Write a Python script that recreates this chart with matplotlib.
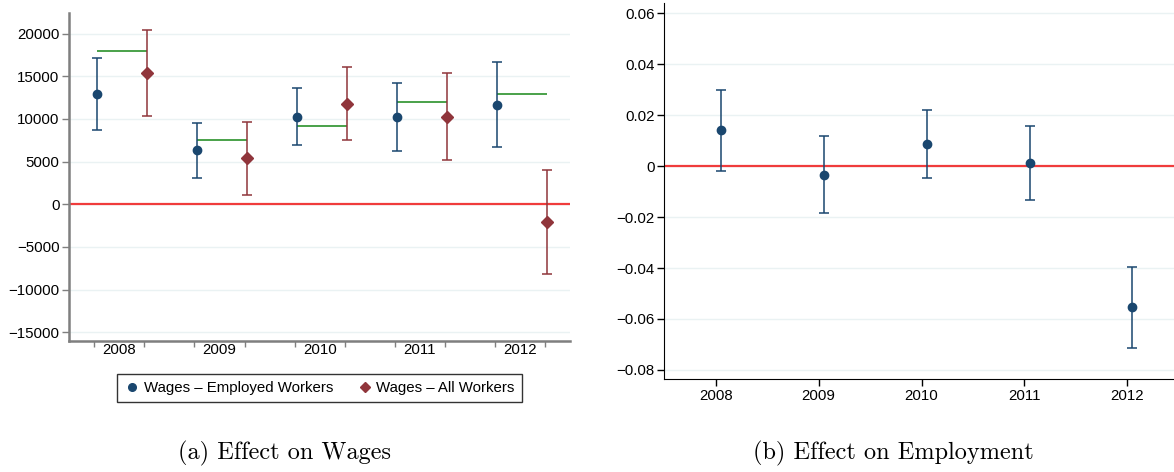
import numpy as np
import matplotlib
matplotlib.use("Agg")
import matplotlib.pyplot as plt
from matplotlib.lines import Line2D

plt.rcParams["font.family"] = ["Liberation Sans", "DejaVu Sans"]

# data
years = [2008, 2009, 2010, 2011, 2012]

wage_emp = [12900, 6310, 10270, 10240, 11650]
wage_emp_lo = [8700, 3140, 6940, 6200, 6670]
wage_emp_hi = [17100, 9530, 13650, 14270, 16630]

wage_all = [15400, 5370, 11800, 10270, -2080]
wage_all_lo = [10350, 1100, 7530, 5250, -8160]
wage_all_hi = [20470, 9650, 16120, 15330, 4000]

wage_ref = [18000, 7490, 9180, 12040, 12980]

emp = [0.0141, -0.0033, 0.0087, 0.0012, -0.0554]
emp_lo = [-0.0017, -0.0184, -0.0047, -0.0132, -0.0714]
emp_hi = [0.0300, 0.0117, 0.0222, 0.0157, -0.0396]

wage_ticks = [-15000, -10000, -5000, 0, 5000, 10000, 15000, 20000]
emp_ticks = [-0.08, -0.06, -0.04, -0.02, 0, 0.02, 0.04, 0.06]

BLUE = "#1a476f"
MAROON = "#90353b"
GREEN = "#3a9a3a"
ZERO = "#f03c3c"
GRID = "#eaf2f3"
GRAY = "#7f7f7f"
OFF = 0.05
FS = 10.8

W, H = 1174, 472
fig = plt.figure(figsize=(W / 100, H / 100), dpi=100)

# ---- (a) wages ----
ax = fig.add_axes([69.3 / W, 1 - 340.7 / H, 500.7 / W, 328 / H])
idx = np.arange(len(years))
bx = 2 * idx + 1 + OFF
rx = 2 * idx + 2 + OFF
emp_arr, all_arr = np.array(wage_emp), np.array(wage_all)

for y in wage_ticks:
    ax.axhline(y, color=GRID, lw=1, zorder=0)
ax.axhline(0, color=ZERO, lw=1.6, zorder=1)
ax.hlines(wage_ref, bx, rx, color=GREEN, lw=1.3, zorder=2)
ax.errorbar(bx, emp_arr, yerr=[emp_arr - wage_emp_lo, np.array(wage_emp_hi) - emp_arr],
            fmt="o", color=BLUE, ms=6, elinewidth=1.1, capsize=3.5, capthick=1.1, zorder=3)
ax.errorbar(rx, all_arr, yerr=[all_arr - wage_all_lo, np.array(wage_all_hi) - all_arr],
            fmt="D", color=MAROON, ms=6.5, elinewidth=1.1, capsize=3.5, capthick=1.1, zorder=3)

ax.set_xlim(0.5, 10.5)
ax.set_ylim(-15980, 22450)
ax.set_yticks(wage_ticks)
ax.set_yticklabels([f"{t}".replace("-", "\u2212") for t in wage_ticks], fontsize=FS)
ax.set_xticks(np.arange(1, 11))
ax.set_xticklabels([])
ax.set_xticks(2 * idx + 1.5, minor=True)
ax.set_xticklabels([str(y) for y in years], minor=True, fontsize=FS)
ax.tick_params(axis="x", which="minor", length=0, pad=2)
ax.tick_params(axis="x", which="major", length=4, width=1, color=GRAY)
ax.tick_params(axis="y", length=5, width=1, color=GRAY, pad=2)
for s in ["top", "right"]:
    ax.spines[s].set_visible(False)
for s in ["left", "bottom"]:
    ax.spines[s].set_color(GRAY)
    ax.spines[s].set_linewidth(1.8)

handles = [Line2D([], [], marker="o", ls="", color=BLUE, ms=5.5),
           Line2D([], [], marker="D", ls="", color=MAROON, ms=5.5)]
fig.legend(handles, ["Wages \u2013 Employed Workers", "Wages \u2013 All Workers"],
           loc="center", bbox_to_anchor=(319.5 / W, 1 - 388 / H), ncol=2,
           fontsize=FS, frameon=True, fancybox=False, edgecolor="black",
           handletextpad=0.3, columnspacing=1.6, borderpad=0.45, handlelength=1.0)

# ---- (b) employment ----
ax2 = fig.add_axes([664.3 / W, 1 - 379.3 / H, 514.4 / W, 376 / H])
e = np.array(emp)
for y in emp_ticks:
    ax2.axhline(y, color=GRID, lw=1, zorder=0)
ax2.axhline(0, color=ZERO, lw=1.6, zorder=1)
ax2.errorbar(np.array(years) + OFF, e, yerr=[e - emp_lo, np.array(emp_hi) - e],
             fmt="o", color=BLUE, ms=6, elinewidth=1.1, capsize=3.5, capthick=1.1, zorder=3)
ax2.set_xlim(2007.5, 2012.5)
ax2.set_ylim(-0.0837, 0.064)
ax2.set_xticks(years)
ax2.set_xticklabels([str(y) for y in years], fontsize=FS)
ax2.set_yticks(emp_ticks)
ax2.set_yticklabels(["0" if t == 0 else f"{t:.2f}".replace("-", "\u2212") for t in emp_ticks],
                    fontsize=FS)
ax2.tick_params(axis="both", length=5, width=1, pad=2)
for s in ["top", "right"]:
    ax2.spines[s].set_visible(False)

# captions
fig.text(285 / W, 1 - 453 / H, "(a) Effect on Wages", family="cmr10", fontsize=17.5,
         ha="center", va="center")
fig.text(893 / W, 1 - 453 / H, "(b) Effect on Employment", family="cmr10", fontsize=17.5,
         ha="center", va="center")

fig.savefig("out.png", dpi=100)
